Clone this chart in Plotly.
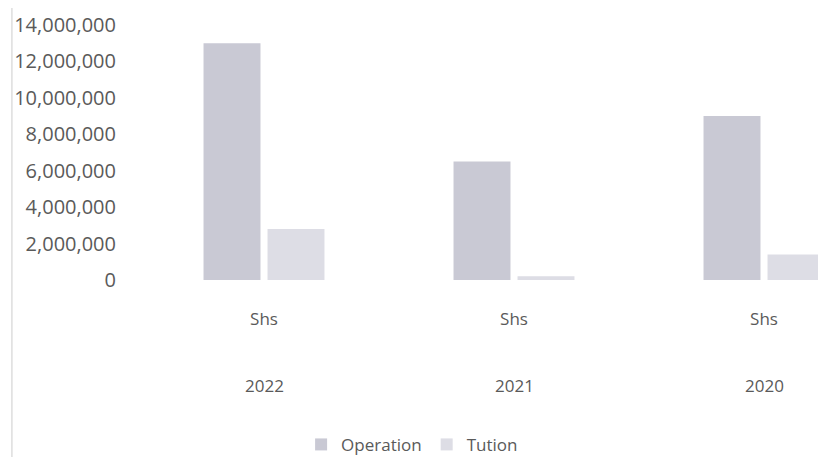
import plotly.graph_objects as go

years = ["2022", "2021", "2020"]
unit_labels = ["Shs", "Shs", "Shs"]
operation = [13000000, 6500000, 9000000]
tution = [2800000, 200000, 1400000]
y_ticks = [0, 2000000, 4000000, 6000000, 8000000, 10000000, 12000000, 14000000]

FONT = "Open Sans"
TXT = "#5a5a5a"

fig = go.Figure()
fig.add_trace(go.Bar(name="Operation", x=years, y=operation,
                     marker=dict(color="#c9c9d4", line=dict(width=0))))
fig.add_trace(go.Bar(name="Tution", x=years, y=tution,
                     marker=dict(color="#dddde5", line=dict(width=0))))

for i, yr in enumerate(years):
    fig.add_annotation(x=i, xref="x", y=-0.412, yref="paper", text=yr,
                       showarrow=False, yanchor="middle",
                       font=dict(family=FONT, size=17, color=TXT))

fig.add_shape(type="line", xref="paper", yref="paper",
              x0=-0.185, x1=-0.185, y0=-0.72, y1=1.1,
              line=dict(color="#dddddd", width=1.5))

fig.update_layout(
    width=818, height=449,
    margin=dict(l=131, r=0, t=17, b=177),
    paper_bgcolor="white", plot_bgcolor="white",
    barmode="group", bargap=0.488, bargroupgap=0.11,
    showlegend=True,
    legend=dict(orientation="h", xref="container", yref="container",
                x=0.494, xanchor="center", y=0.027, yanchor="middle",
                font=dict(family=FONT, size=17, color=TXT)),
    xaxis=dict(type="category", range=[-0.5, 2.248], tickvals=years,
               ticktext=unit_labels, showline=False, showgrid=False,
               zeroline=False, ticks="", ticklabelstandoff=27,
               tickfont=dict(family=FONT, size=17, color=TXT)),
    yaxis=dict(range=[0, 14000000], tickvals=y_ticks, tickformat=",d",
               showgrid=False, zeroline=False, showline=False, ticks="",
               ticklabelstandoff=22,
               tickfont=dict(family=FONT, size=20, color=TXT)),
)

fig.write_html("out.html")
